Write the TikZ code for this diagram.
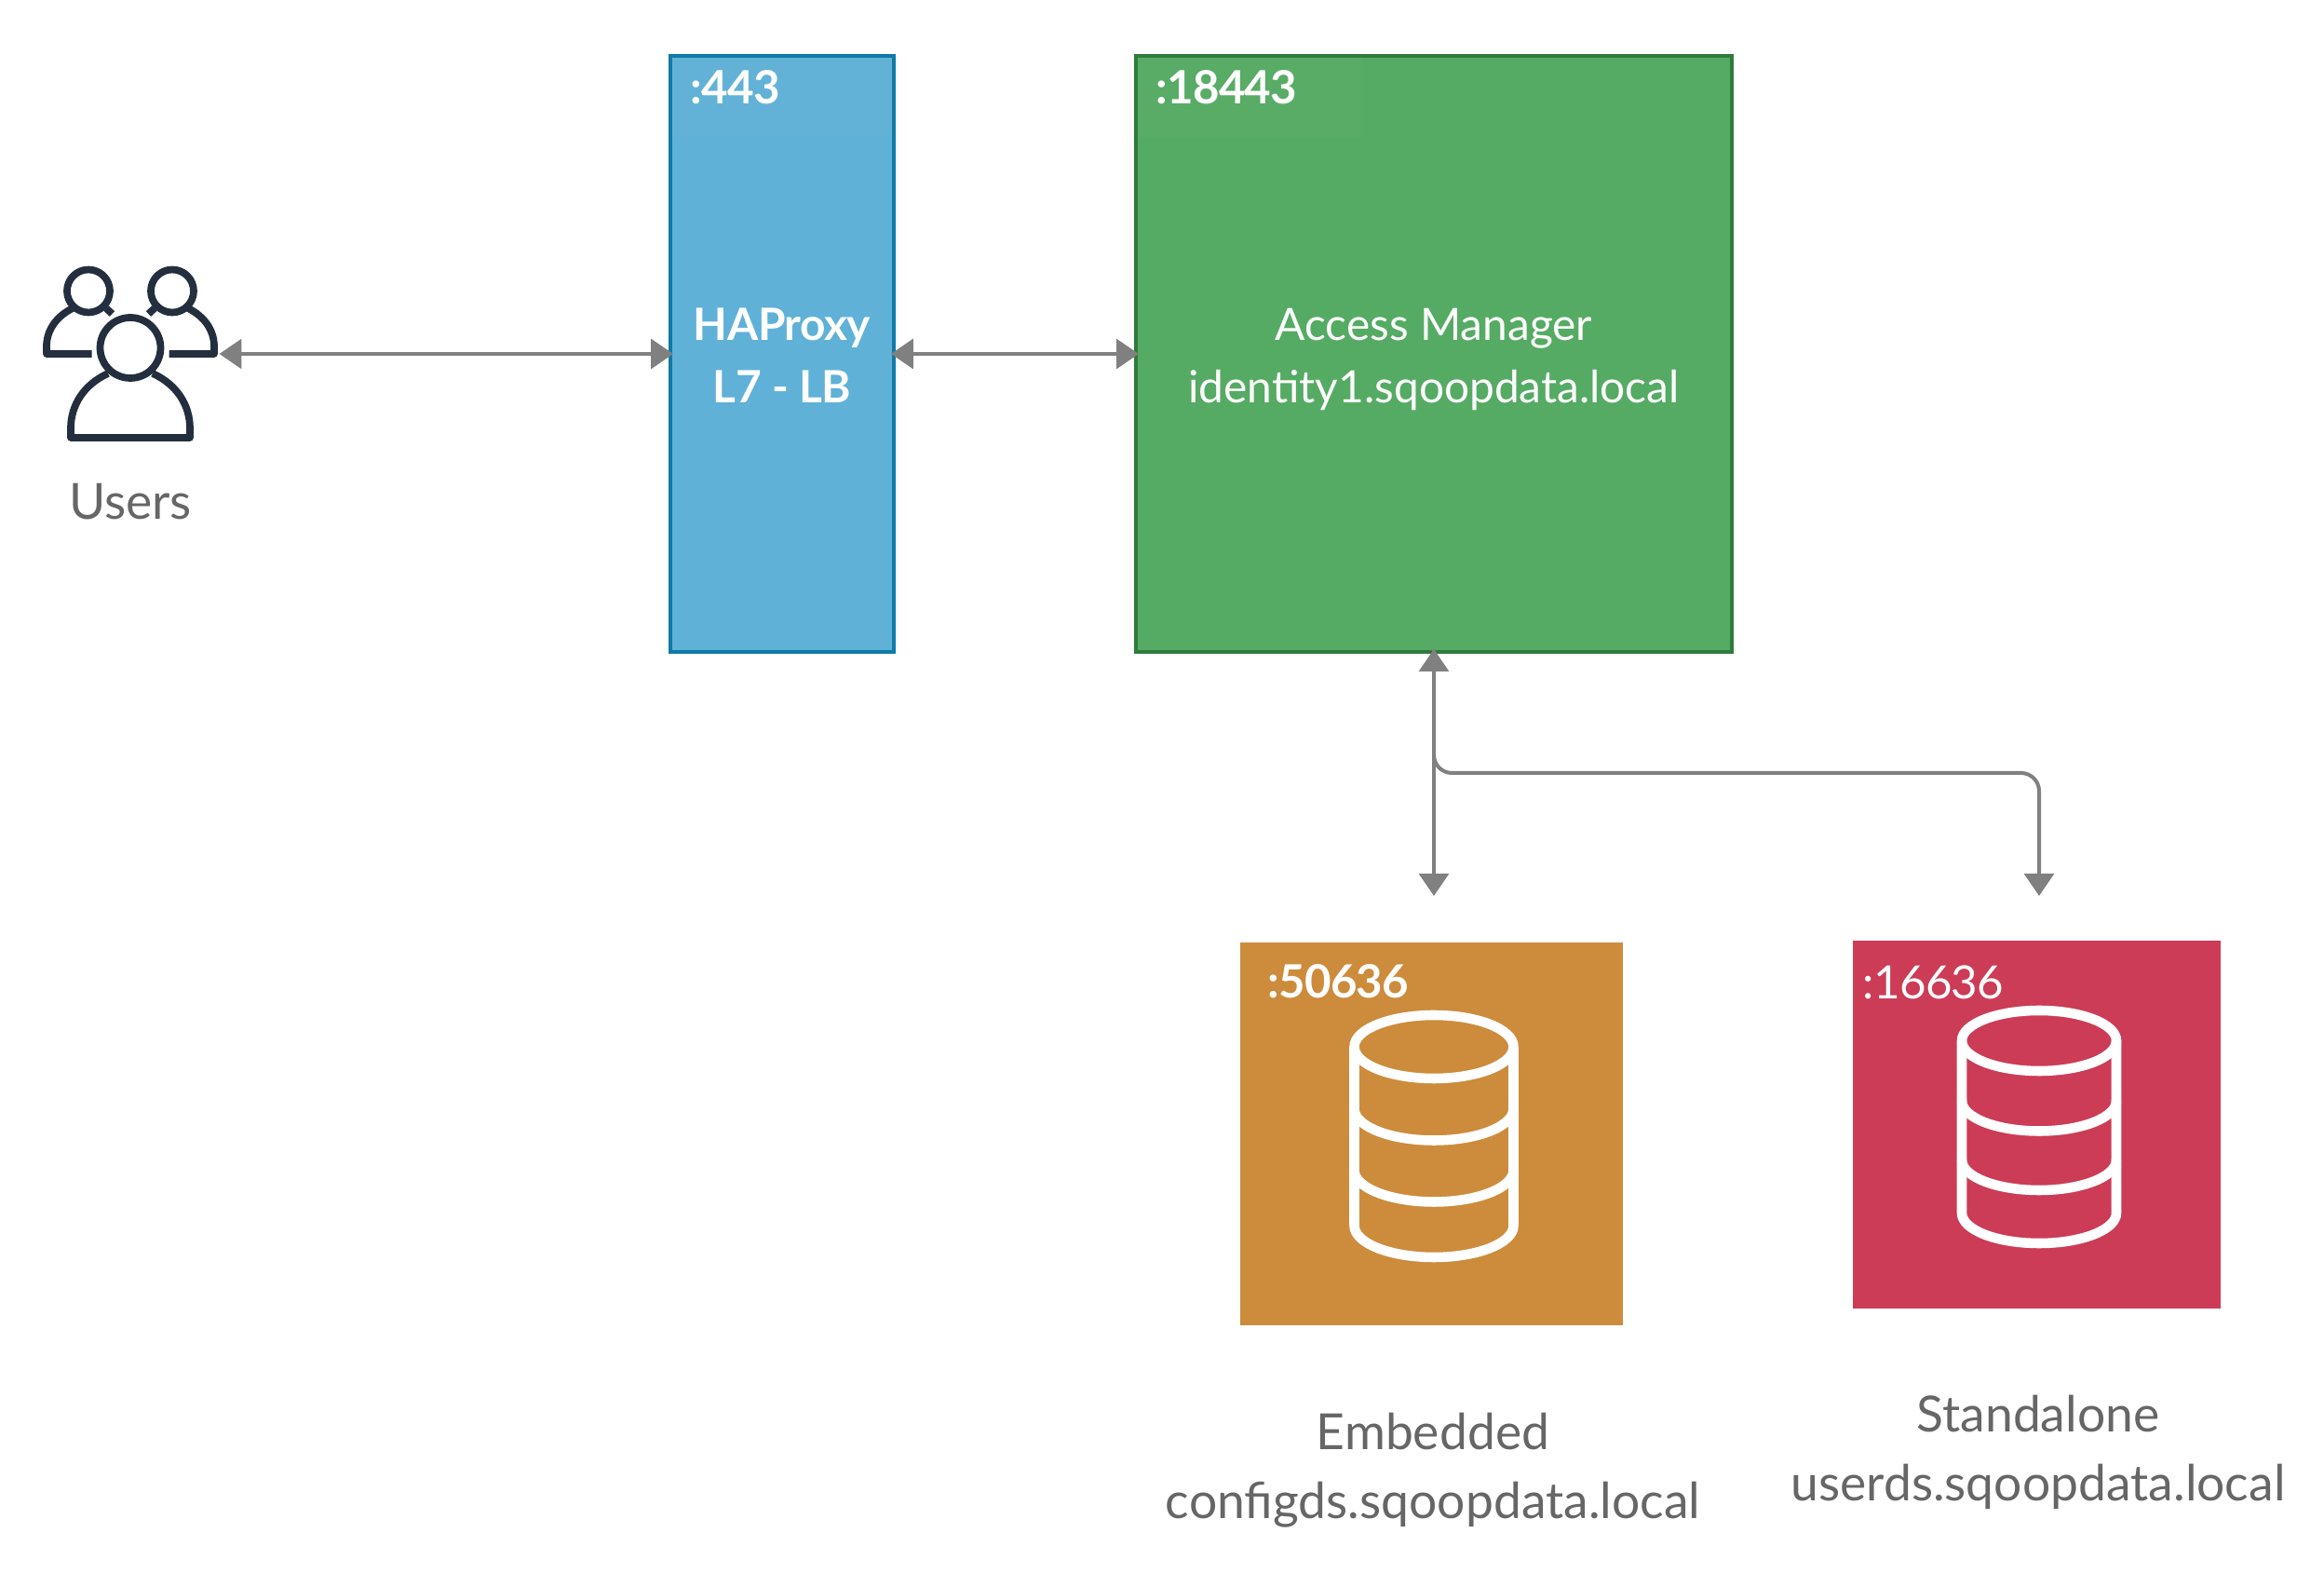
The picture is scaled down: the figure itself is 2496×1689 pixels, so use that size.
\documentclass[tikz,border=0pt]{standalone}
\usepackage{fontspec}
\setmainfont{Lato}
\usetikzlibrary{arrows.meta}
\definecolor{hapfill}{HTML}{5FB1D7}
\definecolor{hapline}{HTML}{0F7AA8}
\definecolor{amfill}{HTML}{55AB63}
\definecolor{amline}{HTML}{2E7B3B}
\definecolor{cfgfill}{HTML}{CC8C3C}
\definecolor{userfill}{HTML}{CC3C56}
\definecolor{linkgray}{HTML}{808080}
\definecolor{textgray}{HTML}{666666}
\definecolor{icondark}{HTML}{232F3E}
\newcommand{\dbstack}[6]{%
  \draw[dbline] (#1,#4) ellipse [x radius=#2, y radius=#3];
  \foreach \cy in {#5} {
    \draw[dbline] ({#1-#2},\cy) arc [start angle=180, end angle=0, x radius=#2, y radius=#3];
  }
  \draw[dbline] ({#1-#2},#4) -- ({#1-#2},#6) arc [start angle=180, end angle=0, x radius=#2, y radius=#3] -- ({#1+#2},#4);
}
\begin{document}
\begin{tikzpicture}[x=0.01cm, y=-0.01cm,
    >={Triangle[length=6.8pt, width=9pt]},
    box/.style={rectangle, draw, line width=1.14pt, outer sep=-0.9pt},
    boxtext/.style={text=white, align=center, inner sep=0pt, font=\fontsize{13.6}{19}\selectfont},
    square/.style={rectangle, minimum width=#1, minimum height=#1, inner sep=0pt},
    port/.style={anchor=base west, inner sep=0pt, text=white, font=\fontsize{14}{17}\selectfont\addfontfeature{LetterSpace=-1.4}},
    caption/.style={text=textgray, align=center, inner sep=0pt, font=\fontsize{15.2}{21}\selectfont},
    link/.style={draw=linkgray, line width=1.14pt},
    dbline/.style={draw=white, line width=3pt, line join=round},
    person/.style={draw=icondark, line width=2.2pt, line join=round}]
  \useasboundingbox (0,0) rectangle (2496,1689);

  \node[box, draw=hapline, fill=hapfill, minimum width=2.4cm, minimum height=6.4cm] (hap) at (840,380) {};
  \node[box, draw=amline, fill=amfill, minimum width=6.4cm, minimum height=6.4cm] (am) at (1540,380) {};
  \fill[white, fill opacity=.025] (722,62) rectangle (958,147);
  \fill[white, fill opacity=.025] (1222,62) rectangle (1462,147);
  \node[boxtext] (haptext) at (840,381.5) {\bfseries\addfontfeature{LetterSpace=-1}HAProxy\\\bfseries\addfontfeature{LetterSpace=-1}L7 - LB};
  \node[boxtext] (amtext) at (1540,386) {Access Manager\\identity1.sqoopdata.local};

  \node[square=4.11cm, anchor=north west, fill=cfgfill] (cfg) at (1331.2,1011) {};
  \node[square=3.95cm, anchor=north west, fill=userfill] (user) at (1989,1009) {};

  \begin{scope}[every node/.style={port}]
    \node (happort) at (741,112) {\bfseries :443};
    \node (amport) at (1240.5,112) {\bfseries :18443};
    \node (cfgport) at (1360.5,1072) {\bfseries :50636};
    \node (userport) at (2000,1073) {:16636};
  \end{scope}

  \dbstack{1540}{85.5}{34}{1124}{1190.5,1256.5}{1316}
  \dbstack{2190}{83}{32.5}{1117.5}{1182,1245.5}{1302.5}

  \node[minimum width=1.91cm, minimum height=1.9cm, inner sep=0pt, outer sep=0pt] (users) at (140,380) {};
  \begin{scope}[shift={(140,0)}]
    \foreach \s in {-1,1} {
      \begin{scope}[xscale=\s]
        \draw[person] (-45,312.5) circle [radius=23];
        \draw[person] (-62,331) .. controls (-80,340) and (-90,355) .. (-90,372) -- (-90,380) -- (-41.5,380);
        \draw[person] (-26,331) -- (-19.5,337);
      \end{scope}
    }
    \draw[person] (0,373.5) circle [radius=32.5];
    \draw[person] (-24,401) .. controls (-50,413) and (-64,435) .. (-64,460) -- (-64,470) -- (64,470) -- (64,460) .. controls (64,435) and (50,413) .. (24,401);
  \end{scope}
  \node[caption] (userscap) at (140,539) {Users};
  \node[caption] (cfgcap) at (1539,1579) {Embedded\\configds.sqoopdata.local};
  \node[caption] (usercap) at (2189,1559.5) {Standalone\\userds.sqoopdata.local};

  \coordinate (cfgtip) at (1540,962);
  \coordinate (usertip) at (2190,962);
  \coordinate (elbow) at (2190,830);

  \draw[link, <->] (users) -- (hap);
  \draw[link, <->] (hap) -- (am);
  \draw[link, <->] (am) -- (cfgtip);
  \draw[link, ->, rounded corners=5.5pt] (am.south) |- (elbow) -- (usertip);
\end{tikzpicture}
\end{document}
